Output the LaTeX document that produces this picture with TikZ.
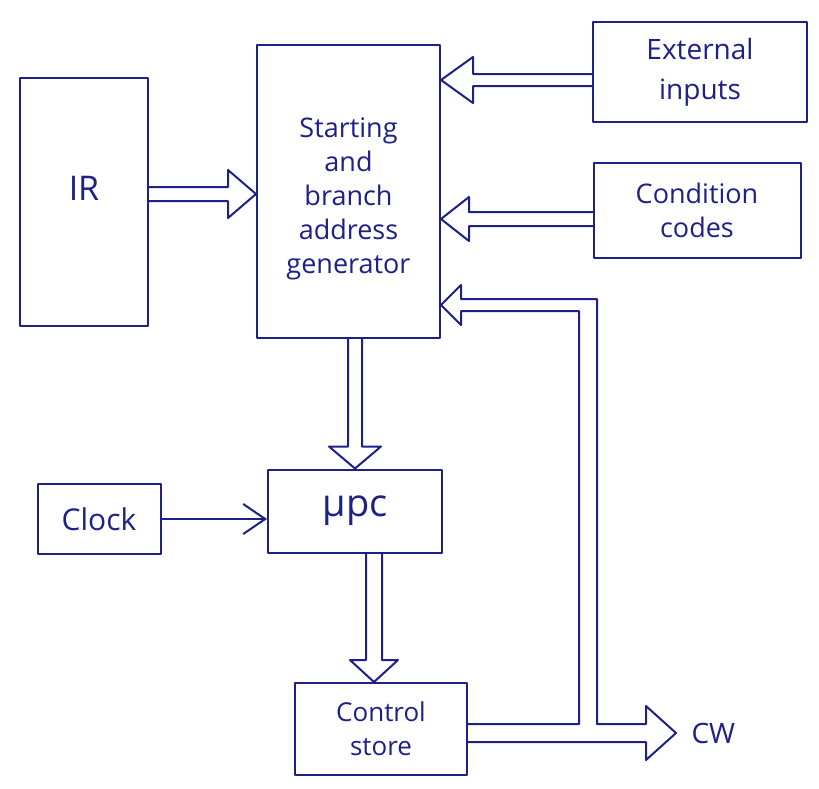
\documentclass[tikz,border=0pt]{standalone}
\usepackage{fontspec}
\setmainfont{Open Sans}
\usetikzlibrary{calc,arrows.meta}
\definecolor{ink}{RGB}{28,32,135}

% Hollow "bus" arrow: #1 start, #2 tip, #3 shaft half-width, #4 head half-width, #5 head length
\newcommand\fatarrow[5]{%
  \path ($(#2)!#5!(#1)$) coordinate (fa-base);
  \draw[bus] ($(#1)!#3!90:(#2)$) -- ($(fa-base)!#3!90:(#2)$)
    -- ($(fa-base)!#4!90:(#2)$) -- (#2) -- ($(fa-base)!#4!-90:(#2)$)
    -- ($(fa-base)!#3!-90:(#2)$) -- ($(#1)!#3!-90:(#2)$);}

\begin{document}
\begin{tikzpicture}[x=1pt,y=-1pt,line join=round,line cap=round,
  box/.style={draw=ink,line width=2pt,text=ink,align=center,inner sep=0pt,
    font=\fontsize{27}{34}\selectfont},
  txt/.style={text=ink,align=center,inner sep=0pt,font=\fontsize{27}{34}\selectfont},
  bus/.style={draw=ink,line width=2pt}]
\useasboundingbox[fill=white] (0,0) rectangle (819,788);

% blocks
\node[box,minimum width=128pt,minimum height=248pt] (IR) at (84,202) {};
\node[txt,font=\fontsize{34}{40}\selectfont] (IRtext) at ($(IR)+(0,-14)$) {IR};
\node[box,minimum width=183pt,minimum height=293pt] (SBAG) at (348.5,191.5) {};
\node[txt] (SBAGtext) at ($(SBAG)+(0,7)$) {Starting\\and\\branch\\address\\generator};
\node[box,minimum width=214pt,minimum height=100pt,font=\fontsize{28}{40}\selectfont]
  (EXT) at (700,72) {External\\inputs};
\node[box,minimum width=207pt,minimum height=95pt] (CC) at (697,210) {Condition\\codes};
\node[box,minimum width=174pt,minimum height=83pt,font=\fontsize{38}{40}\selectfont]
  (MPC) at (355,511) {μpc};
\node[box,minimum width=123pt,minimum height=70pt,font=\fontsize{30}{36}\selectfont]
  (CLK) at (99,519) {Clock};
\node[box,minimum width=172pt,minimum height=92pt,font=\fontsize{26}{34}\selectfont]
  (CS) at (381,729) {Control\\store};

% IR -> generator
\coordinate (irS) at ($(IR.east)+(0,-8)$);
\coordinate (irT) at (SBAG.west |- irS);
\fatarrow{irS}{irT}{7pt}{24pt}{28pt}

% external inputs -> generator
\coordinate (exS) at ($(EXT.west)+(0,8)$);
\coordinate (exT) at (SBAG.east |- exS);
\fatarrow{exS}{exT}{6pt}{23pt}{32pt}

% condition codes -> generator
\coordinate (ccS) at ($(CC.west)+(0,9)$);
\coordinate (ccT) at (SBAG.east |- ccS);
\fatarrow{ccS}{ccT}{7pt}{22pt}{28pt}

% generator -> upc
\coordinate (smS) at (MPC.north |- SBAG.south);
\fatarrow{smS}{MPC.north}{7pt}{26pt}{22pt}

% upc -> control store
\coordinate (mcS) at ($(MPC.south)+(19,0)$);
\coordinate (mcT) at (mcS |- CS.north);
\fatarrow{mcS}{mcT}{8pt}{24pt}{22pt}

% clock -> upc
\draw[ink,line width=2pt,-{Straight Barb[length=22pt,width=30pt]}]
  (CLK.east) -- (CLK.east -| MPC.west);

% control word bus with feedback branch to the generator
\coordinate (busL) at ($(CS.east)+(0,4)$);
\coordinate (cwTip) at ($(busL)+(208,0)$);
\coordinate (fork) at ($(busL)+(120,0)$);
\coordinate (fbTip) at ($(SBAG.south east)+(0,-34)$);
\coordinate (corner) at (fork |- fbTip);
\draw[bus] ($(busL)+(0,-9)$) -- ($(fork)+(-9,-9)$) -- ($(corner)+(-9,6)$)
  -- ($(fbTip)+(20,6)$) -- ($(fbTip)+(20,20)$) -- (fbTip) -- ($(fbTip)+(20,-20)$)
  -- ($(fbTip)+(20,-6)$) -- ($(corner)+(9,-6)$) -- ($(fork)+(9,-9)$)
  -- ($(cwTip)+(-30,-9)$) -- ($(cwTip)+(-30,-27)$) -- (cwTip)
  -- ($(cwTip)+(-30,27)$) -- ($(cwTip)+(-30,9)$) -- ($(busL)+(0,9)$);
\node[text=ink,font=\fontsize{28}{30}\selectfont,anchor=west] (CW) at ($(cwTip)+(12,0)$) {CW};
\end{tikzpicture}
\end{document}
